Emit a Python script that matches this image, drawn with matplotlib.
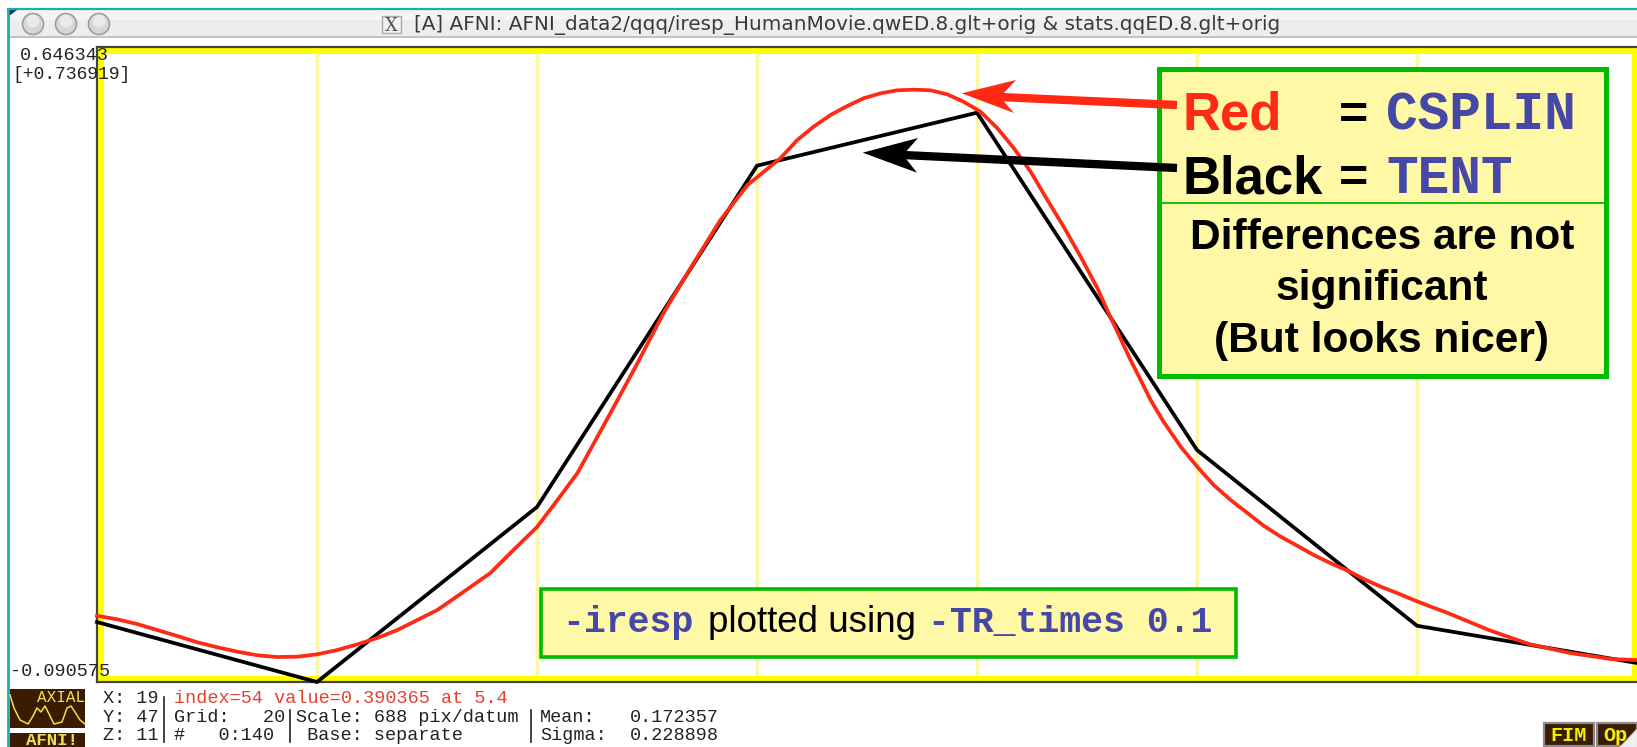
import matplotlib
matplotlib.use("Agg")
import matplotlib.pyplot as plt
from matplotlib.patches import Rectangle, Circle, Polygon

W, H = 1637, 747

# ---- data -----------------------------------------------------------------
tent_t = [0, 1, 2, 3, 4, 5, 6, 7]
tent_v = [-0.0210, -0.0906, 0.1125, 0.5086, 0.5701, 0.1786, -0.0253, -0.0685]

cspline_t = [0.0, 0.091, 0.183, 0.274, 0.365, 0.456, 0.547, 0.638, 0.729, 0.819,
             0.910, 1.0, 1.092, 1.183, 1.274, 1.365, 1.447, 1.547, 1.665, 1.788,
             1.893, 2.0, 2.093, 2.184, 2.334, 2.457, 2.575, 2.698, 2.834, 2.957,
             3.106, 3.183, 3.257, 3.334, 3.410, 3.484, 3.562, 3.638, 3.712, 3.789,
             3.865, 3.939, 4.016, 4.092, 4.167, 4.244, 4.320, 4.394, 4.471, 4.547,
             4.598, 4.698, 4.744, 4.789, 4.848, 4.926, 5.003, 5.076, 5.153, 5.231,
             5.303, 5.381, 5.458, 5.531, 5.608, 5.686, 5.758, 5.836, 5.913, 5.985,
             6.063, 6.14, 6.327, 6.509, 6.695, 6.882, 7.0]
cspline_v = [-0.0137, -0.0178, -0.0233, -0.0303, -0.0372, -0.0445, -0.0503, -0.0554,
             -0.0596, -0.0616, -0.0612, -0.0585, -0.0535, -0.0469, -0.0395, -0.0303,
             -0.0198, -0.0070, 0.0138, 0.0359, 0.0626, 0.0893, 0.1206, 0.1519,
             0.2216, 0.2796, 0.3376, 0.3898, 0.4456, 0.4862, 0.5171, 0.5384,
             0.5538, 0.5674, 0.5778, 0.5868, 0.5926, 0.5961, 0.5968, 0.5961,
             0.5914, 0.5828, 0.5712, 0.5523, 0.5291, 0.5016, 0.4688, 0.4378,
             0.4030, 0.3666, 0.3376, 0.2831, 0.2599, 0.2367, 0.2115, 0.1825,
             0.1586, 0.1380, 0.1206, 0.1052, 0.0908, 0.0780, 0.0672, 0.0568,
             0.0472, 0.0386, 0.0289, 0.0200, 0.0123, 0.0046, -0.0032, -0.0105,
             -0.0303, -0.0465, -0.0569, -0.0639, -0.0651]

y_bottom = -0.090575
y_range = 0.736919
t_max = 7
grid_t = [1, 2, 3, 4, 5, 6]

title = "[A] AFNI: AFNI_data2/qqq/iresp_HumanMovie.qwED.8.glt+orig & stats.qqED.8.glt+orig"
top_label = "0.646343"
range_label = "[+0.736919]"
bottom_label = "-0.090575"

# ---- colours ---------------------------------------------------------------
YEL = "#FFFF00"; GRID = "#FBF6A8"; GREEN = "#00BB00"; BOX = "#FFF8A6"
BLUE = "#4648A8"; RED = "#FF2A14"; TEAL = "#17B0B0"; BROWN = "#3A1C00"
MONO = "Liberation Mono"; SANS = "Liberation Sans"

fig = plt.figure(figsize=(W / 100, H / 100), dpi=100, facecolor="white")


def px_axes(z):
    a = fig.add_axes([0, 0, 1, 1], zorder=z)
    a.set_xlim(0, W); a.set_ylim(H, 0); a.axis("off")
    a.patch.set_alpha(0)
    return a


base = px_axes(0)
top = px_axes(2)

# window chrome
base.add_patch(Rectangle((9, 10), W, 26, fc="#EDEDED", ec="none"))
base.add_patch(Rectangle((9, 10), W, 10, fc="#F4F4F4", ec="none"))
base.plot([9, W], [36.5, 36.5], color="#B8B8B8", lw=1.2)
base.plot([8, W], [9, 9], color=TEAL, lw=1.6)
base.plot([8, 8], [9, H], color=TEAL, lw=2.0)
base.add_patch(Polygon([(9, 10), (17, 10), (9, 16)], fc="#1A2A70", ec="none"))
for cx in (33, 66, 99):
    base.add_patch(Circle((cx, 24), 10.5, fc="#D6D6D6", ec="#9E9E9E", lw=1.2))
    base.add_patch(Circle((cx, 21), 6.5, fc="#EAEAEA", ec="none"))
base.add_patch(Rectangle((382, 16), 19, 17, fc="#F2F2F2", ec="#A8A8A8", lw=1))
base.text(391.5, 31, "X", family="DejaVu Serif", fontsize=13, color="#555555", ha="center", va="baseline")
base.text(414, 30, title, family="DejaVu Sans", fontsize=14.4, color="#3A3A3A", va="baseline")

base.add_patch(Rectangle((97, 47), W - 97, 635, fc="white", ec="none"))

# data axes
ax = fig.add_axes([97 / W, 1 - 682 / H, (W - 97) / W, 635 / H], zorder=1)
ax.patch.set_alpha(0)
ax.set_xlim(0, t_max)
ax.set_ylim(y_bottom, y_bottom + y_range)
for s in ax.spines.values():
    s.set_visible(False)
ax.set_xticks(grid_t)
ax.set_yticks([])
ax.tick_params(length=0, labelbottom=False)
ax.grid(axis="x", color=GRID, lw=2.4)
ax.set_axisbelow(True)

# yellow plot frame, above the grid lines and below the curves
for x0, y0, w, h in [(97, 47, 7, 635), (97, 47, W - 97, 7), (97, 676, W - 97, 6), (1632, 47, 5, 635)]:
    ax.add_patch(Rectangle((x0, y0), w, h, fc=YEL, ec="none", transform=base.transData, zorder=2, clip_on=False))
for xs, ys in [([97, W], [47, 47]), ([97, W], [682, 682]), ([97, 97], [47, 682])]:
    ax.plot(xs, ys, color="#444444", lw=1.6, transform=base.transData, zorder=2.1, clip_on=False)

ax.plot(tent_t, tent_v, color="black", lw=2.7, clip_on=False, solid_joinstyle="miter", zorder=3)
ax.plot(cspline_t, cspline_v, color=RED, lw=2.7, clip_on=False, solid_joinstyle="round", zorder=4)
ax.set_xlim(0, t_max)
ax.set_ylim(y_bottom, y_bottom + y_range)


def mono(x, y, s, color="#222222", size=13.3, **kw):
    top.text(x, y, s, family=MONO, fontsize=size, color=color, va="baseline", **kw)


mono(20, 60, top_label)
mono(12, 79, range_label, size=13)
mono(10, 676, bottom_label)

# status rows
for x, y, s in [(103, 703, "X: 19"), (103, 722, "Y: 47"), (103, 740, "Z: 11"),
                (174, 722, "Grid:   20"), (174, 740, "#   0:140"),
                (296, 722, "Scale: 688 pix/datum"), (296, 740, " Base: separate"),
                (540, 722, "Mean:"), (540, 740, "Sigma:"),
                (630, 722, "0.172357"), (630, 740, "0.228898")]:
    mono(x, y, s)
mono(174, 703, "index=54 value=0.390365 at 5.4", color="#E84030")
for x, y0 in [(164, 697), (290, 710), (531, 710)]:
    top.plot([x, x], [y0, 742], color="#222222", lw=1.2)

# AFNI icon
top.add_patch(Rectangle((10, 689), 75, 39, fc=BROWN, ec="none"))
top.add_patch(Rectangle((10, 733), 75, 14, fc=BROWN, ec="none"))
top.plot([10, 14, 20, 28, 33, 37, 41, 45, 49, 54, 62, 67, 71, 75, 80, 85],
         [695, 708, 720, 724, 716, 708, 712, 706, 714, 724, 722, 708, 706, 712, 720, 724],
         color="#F0E050", lw=1.1)
mono(37, 702, "AXIAL", color="#F0E050", size=11.5)
mono(26, 745, "AFNI!", color="#F0E050", size=12.5, weight="bold")

# buttons
for x0, x1, s in [(1544, 1594, "FIM"), (1597, 1637, "Op")]:
    top.add_patch(Rectangle((x0, 723), x1 - x0, 23, fc=BROWN, ec="#8C8C8C", lw=1.6))
    mono(x0 + 6, 741, s, color="#F5F000", size=14.5, weight="bold")
top.add_patch(Polygon([(1637, 728), (1637, 747), (1619, 747)], fc="#F0F0F0", ec="#C8C8C8", lw=0.8))

# legend box
top.add_patch(Rectangle((1158.5, 68.5), 447, 307, fc=BOX, ec=GREEN, lw=3.6))
top.plot([1160, 1604], [203, 203], color=GREEN, lw=1.3)
top.text(1183, 130, "Red", family=SANS, weight="bold", fontsize=38, color=RED, va="baseline")
top.text(1183, 193, "Black", family=SANS, weight="bold", fontsize=38, color="black", va="baseline")
top.text(1339, 130, "=", family=SANS, weight="bold", fontsize=36, color="black", va="baseline")
top.text(1339, 193, "=", family=SANS, weight="bold", fontsize=36, color="black", va="baseline")
top.text(1386, 130, "CSPLIN", family=MONO, weight="bold", fontsize=38, color=BLUE, va="baseline")
top.text(1386, 193, "TENT", family=MONO, weight="bold", fontsize=38, color=BLUE, va="baseline")
for y, s in [(249, "Differences are not"), (300, "significant"), (352, "(But looks nicer)")]:
    top.text(1382, y, s, family=SANS, weight="bold", fontsize=30.6, color="black", ha="center", va="baseline")

# arrows
for col, tail, neck, tip, up, lo in [
    (RED, (1177, 105), (1000, 97), (961.7, 93.3), (1016, 80), (1014, 113)),
    ("black", (1177, 168), (903, 155), (862.7, 152.7), (918, 138), (917, 172.7)),
]:
    top.plot([tail[0], neck[0]], [tail[1], neck[1]], color=col, lw=6, solid_capstyle="butt")
    top.add_patch(Polygon([tip, up, neck, lo], fc=col, ec="none"))

# lower note box
top.add_patch(Rectangle((540.5, 588.5), 695, 68, fc=BOX, ec=GREEN, lw=2.6))
top.text(562, 632, "-iresp", family=MONO, weight="bold", fontsize=26.3, color=BLUE, va="baseline")
top.text(708, 632, "plotted using", family=SANS, fontsize=26.5, color="black", va="baseline")
top.text(928, 632, "-TR_times 0.1", family=MONO, weight="bold", fontsize=26.3, color=BLUE, va="baseline")

fig.savefig("out.png", dpi=100, facecolor="white")
